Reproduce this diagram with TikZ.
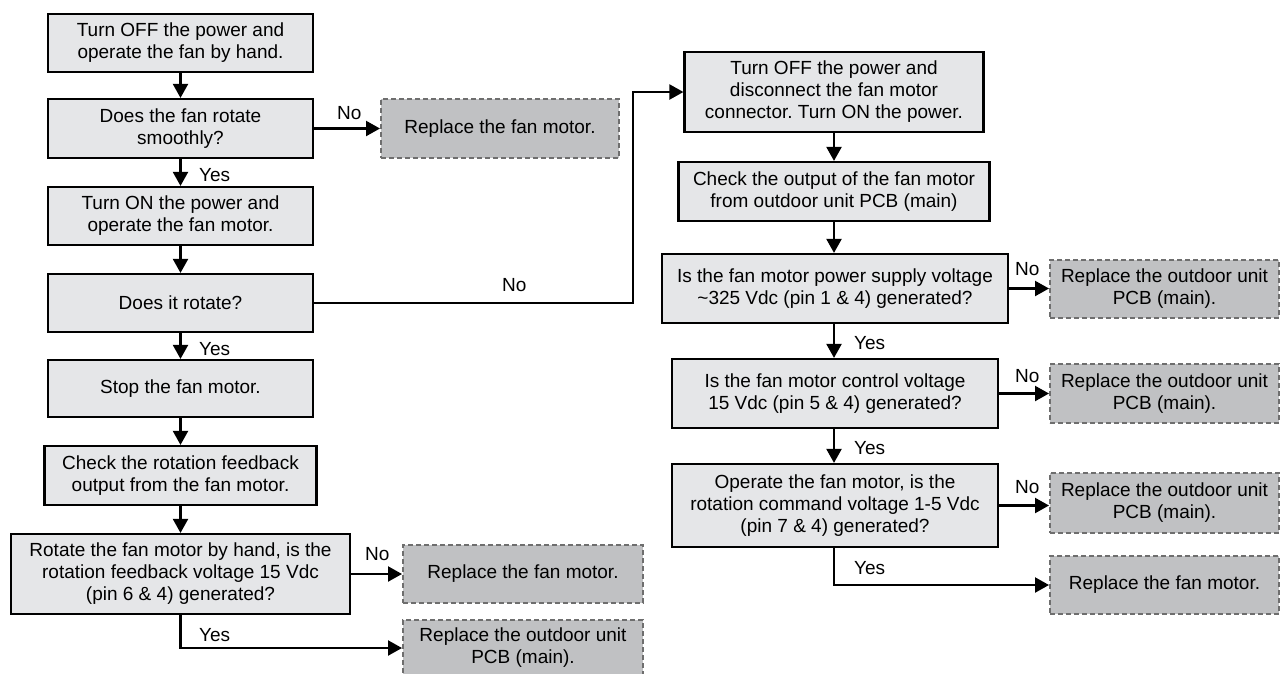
\documentclass[tikz,border=0pt]{standalone}
\usepackage{fontspec}
\setmainfont{Liberation Sans}
\usetikzlibrary{arrows.meta,calc}
\definecolor{procfill}{HTML}{E5E6E8}
\definecolor{replfill}{HTML}{C0C1C3}
\definecolor{repldraw}{HTML}{6E6E6E}
\frenchspacing
\begin{document}
\begin{tikzpicture}[x=1pt,y=-1pt,
  font=\fontsize{19}{22}\selectfont,
  proc/.style={draw=black, line width=2.2pt, fill=procfill, align=center, inner sep=0pt},
  repl/.style={draw=repldraw, line width=2pt, dash pattern=on 5pt off 3pt, fill=replfill, align=center, inner sep=0pt},
  arr/.style={line width=2.2pt, -{Triangle[length=14pt,width=15pt]}},
  lbl/.style={inner sep=0pt, anchor=base west, pos=0}]
\useasboundingbox (0,0) rectangle (1281,673);
\clip (0,0) rectangle (1281,673);
% left column
\node[proc, minimum width=265pt, minimum height=58pt] (b1) at (180.5,43) {Turn OFF the power and\\operate the fan by hand.};
\node[proc, minimum width=265pt, minimum height=59pt] (b2) at (180.5,128.5) {Does the fan rotate\\smoothly?};
\node[proc, minimum width=265pt, minimum height=58pt] (b3) at (180.5,216) {Turn ON the power and\\operate the fan motor.};
\node[proc, minimum width=265pt, minimum height=58pt] (b4) at (180.5,303) {Does it rotate?};
\node[proc, minimum width=265pt, minimum height=57pt] (b5) at (180.5,388.5) {Stop the fan motor.};
\node[proc, minimum width=272pt, minimum height=59pt] (b6) at (180.5,475.5) {Check the rotation feedback\\output from the fan motor.};
\node[proc, minimum width=339pt, minimum height=80pt] (b7) at (180.5,574) {Rotate the fan motor by hand, is the\\rotation feedback voltage 15 Vdc\\(pin 6 \& 4) generated?};
\node[repl, minimum width=238pt, minimum height=59pt] (d1) at (500,128.5) {Replace the fan motor.};
\node[repl, minimum width=240pt, minimum height=58pt] (d2) at (523,574) {Replace the fan motor.};
\node[repl, minimum width=240pt, minimum height=56pt] (d3) at (523,648) {Replace the outdoor unit\\PCB (main).};
% right column
\node[proc, minimum width=299pt, minimum height=80pt] (b8) at (834,92) {Turn OFF the power and\\disconnect the fan motor\\connector. Turn ON the power.};
\node[proc, minimum width=311pt, minimum height=59pt] (b9) at (834,191.5) {Check the output of the fan motor\\from outdoor unit PCB (main)};
\node[proc, minimum width=346pt, minimum height=69pt] (b10) at (835,288.5) {Is the fan motor power supply voltage\\\textasciitilde325 Vdc (pin 1 \& 4) generated?};
\node[proc, minimum width=326pt, minimum height=69pt] (b11) at (835,393.5) {Is the fan motor control voltage\\15 Vdc (pin 5 \& 4) generated?};
\node[proc, minimum width=326pt, minimum height=83pt] (b12) at (835,505.5) {Operate the fan motor, is the\\rotation command voltage 1-5 Vdc\\(pin 7 \& 4) generated?};
\node[repl, minimum width=229pt, minimum height=58pt] (d4) at (1164.5,289) {Replace the outdoor unit\\PCB (main).};
\node[repl, minimum width=229pt, minimum height=59pt] (d5) at (1164.5,393.5) {Replace the outdoor unit\\PCB (main).};
\node[repl, minimum width=229pt, minimum height=60pt] (d6) at (1164.5,503) {Replace the outdoor unit\\PCB (main).};
\node[repl, minimum width=229pt, minimum height=58pt] (d7) at (1164.5,585) {Replace the fan motor.};
% connectors left
\draw[arr] (b1.south) -- (b2.north);
\draw[arr] (b2.east) -- node[lbl, xshift=22pt, yshift=9.5pt] {No} (d1.west);
\draw[arr] (b2.south) -- node[lbl, xshift=17.5pt, yshift=-22pt] {Yes} (b3.north);
\draw[arr] (b3.south) -- (b4.north);
\draw[arr] (b4.south) -- node[lbl, xshift=17.5pt, yshift=-22pt] {Yes} (b5.north);
\draw[arr] (b5.south) -- (b6.north);
\draw[arr] (b6.south) -- (b7.north);
\draw[arr] (b7.east) -- node[lbl, xshift=13pt, yshift=14pt] {No} (d2.west);
\draw[arr] (b7.south) |- node[lbl, xshift=17.5pt, yshift=-26pt] {Yes} (d3.west);
\draw[arr] (b4.east) -- node[lbl, xshift=187pt, yshift=12pt] {No} ++(319,0) |- (b8.west);
% connectors right
\draw[arr] (b8.south) -- (b9.north);
\draw[arr] (b9.south) -- (b9.south |- b10.north);
\draw[arr] (b10.east) -- node[lbl, xshift=5pt, yshift=13.5pt] {No} (b10.east -| d4.west);
\draw[arr] (b10.south -| b9.south) -- node[lbl, xshift=19pt, yshift=-25pt] {Yes} (b9.south |- b11.north);
\draw[arr] (b11.east) -- node[lbl, xshift=15pt, yshift=11.5pt] {No} (b11.east -| d5.west);
\draw[arr] (b11.south -| b9.south) -- node[lbl, xshift=19pt, yshift=-25pt] {Yes} (b9.south |- b12.north);
\draw[arr] (b12.east) -- node[lbl, xshift=15pt, yshift=12.5pt] {No} (b12.east -| d6.west);
\draw[arr] (b12.south -| b9.south) |- node[lbl, xshift=19pt, yshift=-26pt] {Yes} (d7.west);
\end{tikzpicture}
\end{document}
